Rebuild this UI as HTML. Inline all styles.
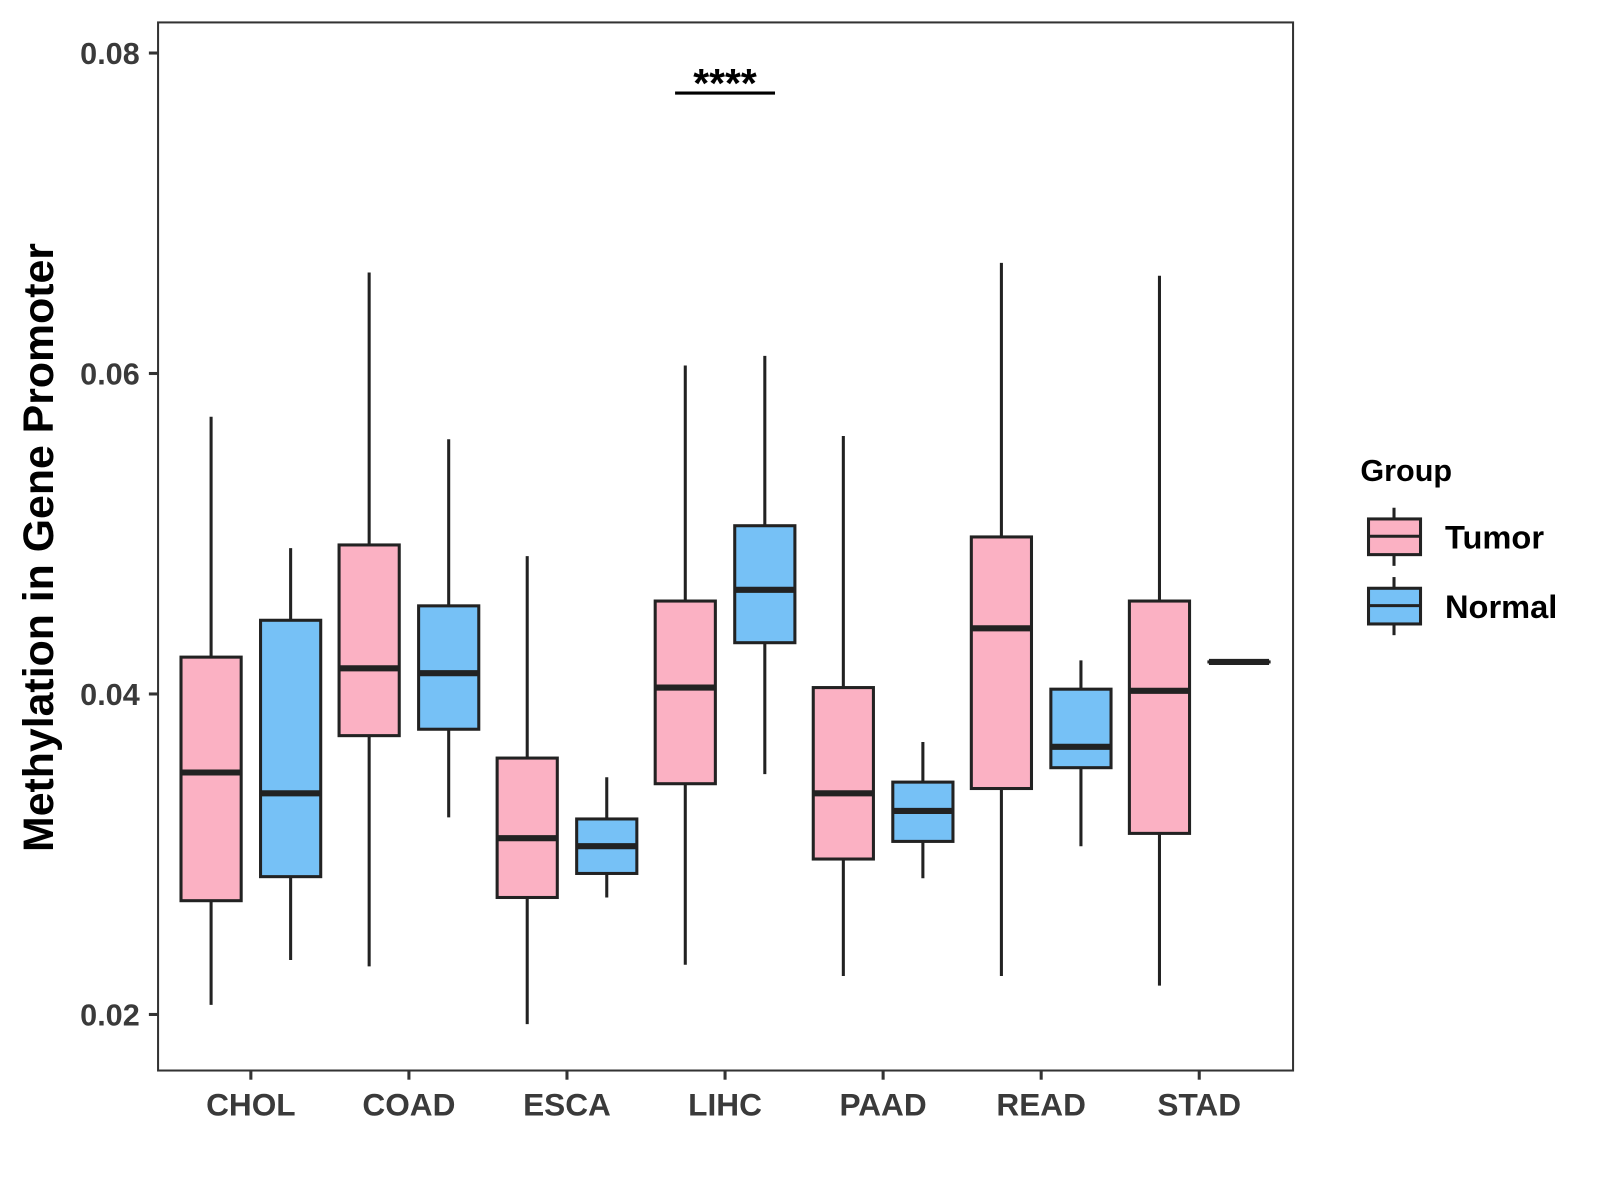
<!DOCTYPE html>
<html><head><meta charset="utf-8"><style>
html,body{margin:0;padding:0;background:#fff;}
svg{display:block;font-family:"Liberation Sans",Arial,sans-serif;}
</style></head><body>
<svg id="chart" width="1600" height="1200" viewBox="0 0 1569 1177" preserveAspectRatio="none" xmlns="http://www.w3.org/2000/svg">
<rect x="0" y="0" width="1569" height="1177" fill="#fff"/>
<g id="plot"></g>
<rect x="155" y="22" width="1113" height="1028" fill="none" stroke="#333" stroke-width="2"/>
<g id="axes"></g>
<text transform="translate(52,537) rotate(-90)" text-anchor="middle" font-size="42" font-weight="bold" fill="#000">Methylation in Gene Promoter</text>
<g>
<text x="1334" y="472" font-size="30" font-weight="bold" fill="#000">Group</text>
<g>
<line x1="1367" y1="498" x2="1367" y2="555" stroke="#222" stroke-width="3"/>
<rect x="1342" y="509" width="51" height="35" fill="#fbb1c3" stroke="#222" stroke-width="3"/>
<line x1="1342" y1="526" x2="1393" y2="526" stroke="#222" stroke-width="3"/>
<text x="1417" y="538" font-size="32" font-weight="bold" fill="#000">Tumor</text>
</g>
<g>
<line x1="1367" y1="566" x2="1367" y2="623" stroke="#222" stroke-width="3"/>
<rect x="1342" y="577" width="51" height="35" fill="#76c1f6" stroke="#222" stroke-width="3"/>
<line x1="1342" y1="594" x2="1393" y2="594" stroke="#222" stroke-width="3"/>
<text x="1417" y="606" font-size="32" font-weight="bold" fill="#000">Normal</text>
</g>
</g>
</svg>
<script>
const categories = ["CHOL","COAD","ESCA","LIHC","PAAD","READ","STAD"];
const groups = ["Tumor","Normal"];
const colors = ["#fbb1c3","#76c1f6"];
// [upper whisker, q3, median, q1, lower whisker]
const tumorStats = [
 [0.0573,0.0423,0.0351,0.0271,0.0206],
 [0.0663,0.0493,0.0416,0.0374,0.0230],
 [0.0486,0.0360,0.0310,0.0273,0.0194],
 [0.0605,0.0458,0.0404,0.0344,0.0231],
 [0.0561,0.0404,0.0338,0.0297,0.0224],
 [0.0669,0.0498,0.0441,0.0341,0.0224],
 [0.0661,0.0458,0.0402,0.0313,0.0218]
];
const normalStats = [
 [0.0491,0.0446,0.0338,0.0286,0.0234],
 [0.0559,0.0455,0.0413,0.0378,0.0323],
 [0.0348,0.0322,0.0305,0.0288,0.0273],
 [0.0611,0.0505,0.0465,0.0432,0.0350],
 [0.0370,0.0345,0.0327,0.0308,0.0285],
 [0.0421,0.0403,0.0367,0.0354,0.0305],
 [0.0420,0.0420,0.0420,0.0420,0.0420]
];
const yTicks = [0.02,0.04,0.06,0.08];
const yTickLabels = ["0.02","0.04","0.06","0.08"];
const sigLabel = "****";
const sigCategory = 3;
const sigValue = 0.0775;

const NS="http://www.w3.org/2000/svg";
function y(v){return 52+(0.08-v)*15717;}
function x(i){return 246+i*155;}
function mk(tag,attrs,parent){const e=document.createElementNS(NS,tag);for(const k in attrs)e.setAttribute(k,attrs[k]);parent.appendChild(e);return e;}
const plot=document.getElementById('plot'), axes=document.getElementById('axes');
const half=29.5, dodge=39;
[tumorStats,normalStats].forEach((stats,g)=>{
 stats.forEach((s,i)=>{
  const cx=x(i)+(g===0?-dodge:dodge);
  const grp=mk('g',{},plot);
  
  
  mk('line',{x1:cx,x2:cx,y1:y(s[0]),y2:y(s[4]),stroke:'#222','stroke-width':3},grp);
  mk('rect',{x:cx-half,y:y(s[1]),width:2*half,height:Math.max(y(s[3])-y(s[1]),0.01),fill:colors[g],stroke:'#222','stroke-width':3},grp);
  mk('line',{x1:cx-half,x2:cx+half,y1:y(s[2]),y2:y(s[2]),stroke:'#222','stroke-width':6},grp);
 });
});
yTicks.forEach((t,i)=>{
 const tk=mk('line',{x1:146,x2:155,y1:y(t),y2:y(t),stroke:'#333','stroke-width':3},axes);
 
 
 const lb=mk('text',{x:137,y:y(t)+11,'text-anchor':'end','font-size':30,'font-weight':'bold',fill:'#3a3a3a'},axes);
 lb.textContent=yTickLabels[i];
 
 
});
categories.forEach((c,i)=>{
 const tk=mk('line',{x1:x(i),x2:x(i),y1:1050,y2:1059,stroke:'#333','stroke-width':3},axes);
 
 
 const lb=mk('text',{x:x(i),y:1094,'text-anchor':'middle','font-size':31,'font-weight':'bold',fill:'#3a3a3a'},axes);
 lb.textContent=c;
 
 
});
const sg=mk('g',{},plot);


mk('line',{x1:x(sigCategory)-dodge-10,x2:x(sigCategory)+dodge+10,y1:y(sigValue),y2:y(sigValue),stroke:'#000','stroke-width':3},sg);
const st=mk('text',{x:x(sigCategory),y:y(sigValue)+4,'text-anchor':'middle','font-size':40,'font-weight':'bold',fill:'#000'},sg);
st.textContent=sigLabel;
</script>
</body></html>
